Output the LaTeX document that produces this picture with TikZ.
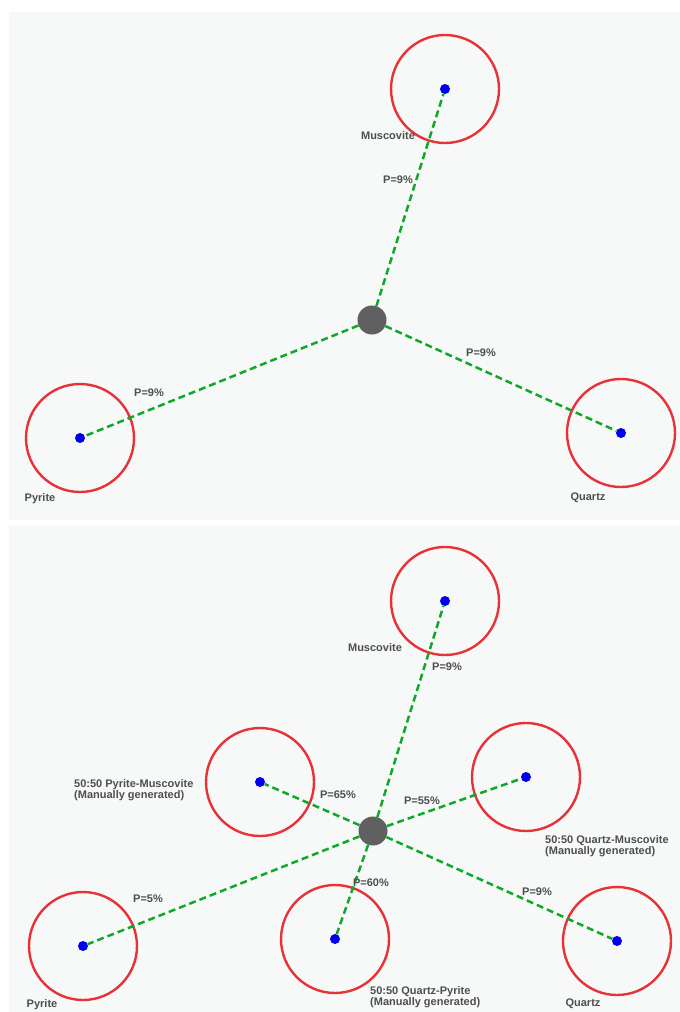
\documentclass[tikz,border=0pt]{standalone}
\usepackage{fontspec}
\setmainfont{Liberation Sans}
\usepackage{tikz}

\definecolor{panelbg}{RGB}{247,249,249}
\definecolor{ringred}{RGB}{232,50,56}
\definecolor{dotblue}{RGB}{0,0,238}
\definecolor{linkgreen}{RGB}{16,168,40}
\definecolor{hubgray}{RGB}{96,96,96}
\definecolor{labelgray}{RGB}{78,78,78}

\tikzset{
    ring/.style={circle, draw=ringred, line width=2.4pt, minimum size=108pt, inner sep=0pt},
    mineral/.style={circle, fill=dotblue, minimum size=10pt, inner sep=0pt},
    hub/.style={circle, fill=hubgray, minimum size=29pt, inner sep=0pt},
    link/.style={draw=linkgreen, line width=2.5pt, dash pattern=on 7pt off 4pt},
    lbl/.style={text=labelgray, inner sep=0pt, align=left,
        font=\fontsize{11}{11.5}\selectfont\bfseries},
}

\begin{document}
\begin{tikzpicture}[x=1pt, y=-1pt]
    \useasboundingbox (0,0) rectangle (680,1012);

    % Panels
    \fill[panelbg] (9,12) rectangle (680,520);
    \fill[panelbg] (9,525) rectangle (680,1012);

    % Upper panel: samples
    \foreach \name/\x/\y in {mus/445/89, pyr/80/438, qtz/621/433}
    {
        \node[ring] (ring-\name) at (\x,\y) {};
        \node[mineral] (\name) at (\x,\y) {};
    }
    \node[hub] (hub) at (372,320) {};

    % Upper panel: links
    \foreach \name in {mus, pyr, qtz}
        \draw[link] (hub) -- (\name);

    % Upper panel: labels
    \node[lbl] (lbl-mus) at (388,136) {Muscovite};
    \node[lbl] (lbl-pyr) at (40,499) {Pyrite};
    \node[lbl] (lbl-qtz) at (588,498) {Quartz};
    \node[lbl] (p-mus) at (398,180) {P=9\%};
    \node[lbl] (p-pyr) at (149,393) {P=9\%};
    \node[lbl] (p-qtz) at (481,353) {P=9\%};

    % Lower panel: samples
    \foreach \name/\x/\y in {musb/445/601, pm/260/782, qm/526/777,
                             pyrb/83/946, qp/335/939, qtzb/617/941}
    {
        \node[ring] (ring-\name) at (\x,\y) {};
        \node[mineral] (\name) at (\x,\y) {};
    }
    \node[hub] (hubb) at (373,831) {};

    % Lower panel: links
    \foreach \name in {musb, pm, qm, pyrb, qp, qtzb}
        \draw[link] (hubb) -- (\name);

    % Lower panel: labels
    \node[lbl] (lbl-musb) at (375,648) {Muscovite};
    \node[lbl, anchor=west] (lbl-pm) at (74,790) {50:50 Pyrite-Muscovite\\(Manually generated)};
    \node[lbl, anchor=west] (lbl-qm) at (545,846) {50:50 Quartz-Muscovite\\(Manually generated)};
    \node[lbl] (lbl-pyrb) at (42,1005) {Pyrite};
    \node[lbl, anchor=west] (lbl-qp) at (370,997) {50:50 Quartz-Pyrite\\(Manually generated)};
    \node[lbl] (lbl-qtzb) at (583,1004) {Quartz};
    \node[lbl] (p-musb) at (447,667) {P=9\%};
    \node[lbl] (p-pm) at (338,795) {P=65\%};
    \node[lbl] (p-qm) at (422,801) {P=55\%};
    \node[lbl] (p-pyrb) at (148,899) {P=5\%};
    \node[lbl] (p-qp) at (371,883) {P=60\%};
    \node[lbl] (p-qtzb) at (537,892) {P=9\%};
\end{tikzpicture}
\end{document}
